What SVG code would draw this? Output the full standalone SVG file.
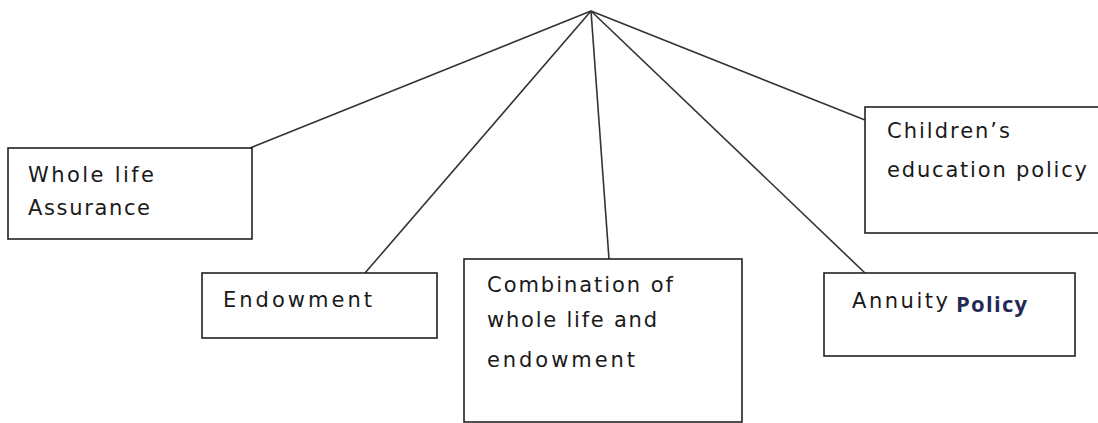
<svg xmlns="http://www.w3.org/2000/svg" width="1098" height="423" viewBox="0 0 1098 423">
<style>
.box{fill:#fff;stroke:#222;stroke-width:1.6}
.ln{stroke:#333;stroke-width:1.6;fill:none}
.t{font-family:"DejaVu Sans","Liberation Sans",sans-serif;font-size:21px;fill:#1a1a1a}
.p{font-family:"Open Sans","Liberation Sans",sans-serif;font-size:22px;font-weight:bold;fill:#232a55}
</style>
<rect width="1098" height="423" fill="#fff"/>
<g id="connectors">
<line class="ln" x1="591" y1="11" x2="250" y2="148"/>
<line class="ln" x1="591" y1="11" x2="365" y2="273"/>
<line class="ln" x1="591" y1="11" x2="609" y2="259"/>
<line class="ln" x1="591" y1="11" x2="865" y2="273"/>
<line class="ln" x1="591" y1="11" x2="865" y2="120"/>
</g>
<g id="whole-life">
<rect class="box" x="8" y="148" width="244" height="91"/>
<text class="t" x="28" y="182" textLength="126" lengthAdjust="spacing">Whole life</text>
<text class="t" x="28" y="215" textLength="122" lengthAdjust="spacing">Assurance</text>
</g>
<g id="endowment">
<rect class="box" x="202" y="273" width="235" height="65"/>
<text class="t" x="223" y="307" textLength="149" lengthAdjust="spacing">Endowment</text>
</g>
<g id="combination">
<rect class="box" x="464" y="259" width="278" height="163"/>
<text class="t" x="487" y="292" textLength="186" lengthAdjust="spacing">Combination of</text>
<text class="t" x="487" y="327" textLength="170" lengthAdjust="spacing">whole life and</text>
<text class="t" x="487" y="367" textLength="148" lengthAdjust="spacing">endowment</text>
</g>
<g id="childrens">
<rect class="box" x="865" y="107" width="240" height="126"/>
<text class="t" x="887" y="138" textLength="123" lengthAdjust="spacing">Children’s</text>
<text class="t" x="887" y="177" textLength="200" lengthAdjust="spacing">education policy</text>
</g>
<g id="annuity">
<rect class="box" x="824" y="273" width="251" height="83"/>
<text class="t" x="852" y="308" textLength="96" lengthAdjust="spacing">Annuity</text>
<text class="p" x="956" y="312" textLength="71" lengthAdjust="spacing">Policy</text>
</g>
</svg>
